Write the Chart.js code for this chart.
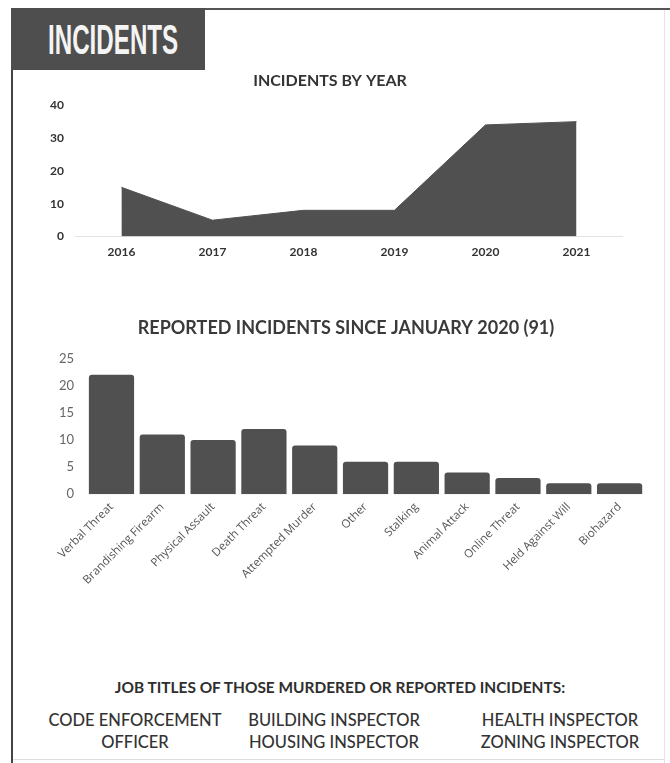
<!DOCTYPE html>
<html>
<head>
<meta charset="utf-8">
<script src="https://cdn.jsdelivr.net/npm/chart.js@4.4.0/dist/chart.umd.min.js"></script>
<style>
  body { margin: 0; width: 670px; height: 763px; background: #fff; position: relative; overflow: hidden; font-family: 'Lato', sans-serif; color: #333; }
  .abs { position: absolute; }
  #frameLeft { left: 11px; top: 8px; width: 2px; height: 755px; background: #444; }
  #frameTop { left: 205px; top: 8px; width: 465px; height: 2px; background: #555; }
  #frameRight { left: 664px; top: 10px; width: 1px; height: 753px; background: #e4e4e4; }
  #frameBottom { left: 13px; top: 759px; width: 651px; height: 1px; background: #ddd; }
  #header { left: 11px; top: 8px; width: 194px; height: 62px; background: #4e4e4e; }
  #header span { position: absolute; display: block; left: 37px; top: 10px; color: #f4f4f4; font: 700 42px 'Liberation Sans Narrow', sans-serif; line-height: 44px; transform-origin: left top; white-space: nowrap; }
  #c1 { left: 0; top: 62px; }
  #c2 { left: 0; top: 305px; }
  #jobs { left: 0; top: 677px; width: 670px; }
  #jobs .head { position: absolute; left: 0; width: 680px; text-align: center; font: 700 16px 'Lato', sans-serif; color: #2e2e2e; transform: scaleX(0.965); transform-origin: center; }
  #jobs .col { position: absolute; top: 32px; text-align: center; font: 500 16.5px 'Lato', sans-serif; line-height: 22px; color: #333; }
</style>
</head>
<body>
<div class="abs" id="frameLeft"></div>
<div class="abs" id="frameTop"></div>
<div class="abs" id="frameRight"></div>
<div class="abs" id="frameBottom"></div>
<div class="abs" id="header"><span id="headerText">INCIDENTS</span></div>
<div class="abs" id="c1" style="width:670px;height:205px"><canvas id="yearChart"></canvas></div>
<div class="abs" id="c2" style="width:670px;height:288px"><canvas id="typeChart"></canvas></div>
<div class="abs" id="jobs">
  <div class="head">JOB TITLES OF THOSE MURDERED OR REPORTED INCIDENTS:</div>
  <div class="col" style="left:35px;width:200px">CODE ENFORCEMENT<br>OFFICER</div>
  <div class="col" style="left:234px;width:200px">BUILDING INSPECTOR<br>HOUSING INSPECTOR</div>
  <div class="col" style="left:460px;width:200px">HEALTH INSPECTOR<br>ZONING INSPECTOR</div>
</div>
<script>
var years = ['2016', '2017', '2018', '2019', '2020', '2021'];
var yearCounts = [15, 5, 8, 8, 34, 35];
var yearTicks = [0, 10, 20, 30, 40];

var incidentTypes = ['Verbal Threat', 'Brandishing Firearm', 'Physical Assault', 'Death Threat', 'Attempted Murder', 'Other', 'Stalking', 'Animal Attack', 'Online Threat', 'Held Against Will', 'Biohazard'];
var typeCounts = [22, 11, 10, 12, 9, 6, 6, 4, 3, 2, 2];
var typeTicks = [0, 5, 10, 15, 20, 25];

var darkGray = '#505050';

//squeeze the header word to the width of the banner text
var headerText = document.getElementById('headerText');
headerText.style.transform = 'scaleX(' + (130 / headerText.offsetWidth) + ')';

//incidents by year - filled area
new Chart(document.getElementById('yearChart'), {
  type: 'line',
  data: {
    labels: years,
    datasets: [{
      data: yearCounts,
      fill: 'origin',
      backgroundColor: darkGray,
      borderColor: darkGray,
      borderWidth: 1,
      pointRadius: 0,
      tension: 0
    }]
  },
  options: {
    responsive: true,
    maintainAspectRatio: false,
    animation: false,
    layout: { padding: { left: 38, right: 48, top: 0, bottom: 0 } },
    plugins: {
      legend: { display: false },
      tooltip: { enabled: false },
      title: {
        display: true,
        text: 'INCIDENTS BY YEAR',
        color: '#333',
        font: { family: 'Lato', size: 16, weight: 'bold' },
        padding: { top: 9, bottom: 15 }
      }
    },
    scales: {
      x: {
        offset: true,
        grid: { display: false, drawTicks: false },
        border: { display: true, color: '#e2e2e2', width: 1 },
        ticks: { color: '#333', font: { family: 'Lato', size: 12, weight: 'bold' }, padding: 8 }
      },
      y: {
        min: 0,
        max: 40,
        afterBuildTicks: function(axis) { axis.ticks = yearTicks.map(function(v) { return { value: v }; }); },
        grid: { display: false, drawTicks: false },
        border: { display: false },
        ticks: { color: '#333', font: { family: 'Lato', size: 12, weight: 'bold' }, padding: 12 }
      }
    }
  }
});

//reported incidents by type - bars
new Chart(document.getElementById('typeChart'), {
  type: 'bar',
  data: {
    labels: incidentTypes,
    datasets: [{
      data: typeCounts,
      backgroundColor: darkGray,
      borderRadius: 3,
      barPercentage: 0.89,
      categoryPercentage: 1
    }]
  },
  options: {
    responsive: true,
    maintainAspectRatio: false,
    animation: false,
    layout: { padding: { left: 47, right: 25, top: 0, bottom: 0 } },
    plugins: {
      legend: { display: false },
      tooltip: { enabled: false },
      title: {
        display: true,
        text: 'REPORTED INCIDENTS SINCE JANUARY 2020 (91)',
        color: '#3a3a3a',
        font: { family: 'Lato', size: 18, weight: 'bold' },
        padding: { top: 12, bottom: 20 }
      }
    },
    scales: {
      x: {
        grid: { display: false, drawTicks: false },
        border: { display: false },
        ticks: { color: '#555', font: { family: 'Open Sans', size: 11.5 }, minRotation: 45, maxRotation: 45, padding: 6, autoSkip: false }
      },
      y: {
        min: 0,
        max: 25,
        afterBuildTicks: function(axis) { axis.ticks = typeTicks.map(function(v) { return { value: v }; }); },
        grid: { display: false, drawTicks: false },
        border: { display: false },
        ticks: { color: '#666', font: { family: 'Lato', size: 13 }, padding: 12 }
      }
    }
  }
});
</script>
</body>
</html>
